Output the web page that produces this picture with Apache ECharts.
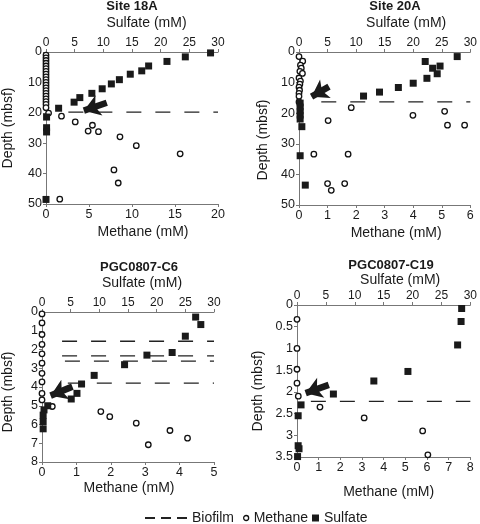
<!DOCTYPE html>
<html><head><meta charset="utf-8">
<script src="https://cdn.jsdelivr.net/npm/echarts@6/dist/echarts.min.js"></script>
<style>html,body{margin:0;padding:0;background:#fff}#chart{width:480px;height:524px}</style>
</head><body><div id="chart"></div>
<script>
// ---------- Site 18A ----------  [sulfate mM, depth mbsf] / [methane mM, depth mbsf]
const s18A_sulfate = [[28.7,0.3],[24.3,1.6],[21.1,3.1],[17.9,4.6],[16.7,6.2],[14.7,7.3],[12.8,9.1],[11.4,10.5],[9.8,12.1],[8.0,13.6],[5.9,15.0],[4.9,16.5],[2.2,18.5],[0.1,21.4],[0.1,24.9],[0.1,26.3],[0.0,48.5]];
const s18A_methane = [[0,1.0],[0,1.9],[0,2.8],[0,3.7],[0,4.6],[0,5.5],[0,6.4],[0,7.3],[0,8.2],[0,9.1],[0,10.0],[0,10.9],[0,11.8],[0,12.7],[0,13.6],[0,14.5],[0,15.4],[0,16.3],[0,17.2],[0,18.3],[0.3,20.1],[1.8,21.1],[3.4,23.0],[5.4,24.1],[4.9,26.0],[6.1,26.2],[8.6,27.9],[10.5,30.8],[15.6,33.5],[7.9,38.8],[8.4,43.1],[1.6,48.4]];
const s18A_biofilm = [[3.9,19.8],[30,19.8]];
const s18A_arrow = [[10.6,16.7],[6.6,19.3]];

// ---------- Site 20A ----------
const s20A_sulfate = [[27.7,1.5],[22.1,3.1],[24.7,4.6],[23.4,5.3],[24.2,7.1],[22.4,8.6],[20.0,10.2],[17.4,11.6],[14.1,13.1],[11.3,14.4],[0.2,16.7],[0.2,18.0],[0.2,19.3],[0.2,20.6],[0.2,21.9],[0.5,24.4],[0.2,33.9],[1.1,43.5]];
const s20A_methane = [[0,1.5],[0.13,3.0],[0.05,4.3],[0.08,5.3],[0.03,6.3],[0.12,7.0],[0,8.5],[0.05,9.5],[0.03,10.5],[0,11.5],[0.02,12.5],[0,13.5],[0,14.5],[0,16.3],[1.83,18.2],[1.02,22.4],[3.99,20.7],[5.1,19.4],[5.2,23.9],[5.8,23.9],[0.52,33.4],[1.72,33.4],[1.0,43.0],[1.13,45.2],[1.6,43.0]];
const s20A_biofilm = [[3.9,16.3],[30,16.3]];
const s20A_arrow = [[5.25,11.3],[2.2,14.6]];

// ---------- PGC0807-C6 ----------
const c6_sulfate = [[26.8,0.27],[27.7,0.67],[25.0,1.29],[22.7,2.16],[18.3,2.3],[14.4,2.81],[9.1,3.38],[6.9,3.84],[6.1,4.34],[5.1,4.64],[1.0,5.0],[0.35,5.22],[0.2,5.5],[0.2,5.84],[0.2,6.23]];
const c6_methane = [[0,0.1],[0,0.58],[0,1.2],[0,1.73],[0,2.23],[0,2.73],[0,3.27],[0,3.73],[0,4.34],[0,4.69],[0.3,5.04],[1.71,5.31],[1.97,5.58],[2.74,5.93],[3.72,6.32],[4.23,6.73],[3.09,7.08]];
const c6_biofilm1 = [[3.5,1.56],[30,1.56]];
const c6_biofilm2 = [[3.5,2.34],[30,2.34]];
const c6_biofilm3 = [[4.0,2.62],[30,2.62]];
const c6_biofilm4 = [[4.5,3.79],[30,3.79]];
const c6_arrow = [[5.3,3.98],[1.5,4.46]];

// ---------- PGC0807-C19 ----------
const c19_sulfate = [[28.5,0.08],[28.4,0.38],[27.8,0.92],[19.2,1.53],[13.3,1.75],[6.3,2.05],[0.7,2.3],[0.2,2.55],[0.2,3.24],[0.35,3.31],[0.1,3.49]];
const c19_methane = [[0,0.33],[0,1.0],[0,1.48],[0,1.8],[0.06,2.1],[1.06,2.35],[3.1,2.6],[5.8,2.9],[6.04,3.45]];
const c19_biofilm = [[2.4,2.22],[30,2.22]];
const c19_arrow = [[5.5,1.84],[1.5,2.03]];

// ---------- axes ----------
const titles = ['Site 18A','Site 20A','PGC0807-C6','PGC0807-C19'];
const sulfateMax = [30,30,30,30];
const methaneMax = [20,6,5,8];
const methaneStep = [5,1,1,1];
const depthMax = [50,50,8,3.5];
const depthStep = [10,10,1,0.5];

const FONT = 'Liberation Sans, Arial, Helvetica, sans-serif';
const TXT = '#1a1a1a';
const AX = '#777';

const grids = [
  {left:43, top:52, width:175, height:152},
  {left:299, top:52, width:173, height:153},
  {left:41, top:312, width:173, height:150},
  {left:297, top:305, width:174, height:152}
];
const titlePos = [[132,0],[395,0],[139,261],[391,259]];
const sulfNameGap = [22,22,22,18];
const sulfNamePad = [29,43,28,33];
const methNameGap = [21,21,19,28];
const methNamePad = [22,23,2,10];
const depthNameGap = [31,29,27,32];
const depthNamePad = [0,23,10,20];

const axisCommon = {
  axisLine:{show:true, lineStyle:{color:AX, width:1}},
  axisTick:{show:true, length:3, lineStyle:{color:AX}},
  splitLine:{show:false},
  nameTextStyle:{fontFamily:FONT, fontSize:14, color:TXT},
};

const xAxes = [], yAxes = [], titleArr = [];
for (let i=0;i<4;i++){
  xAxes.push(Object.assign({}, axisCommon, {
    type:'value', gridIndex:i, position:'top', min:0, max:sulfateMax[i], interval:5,
    name:'Sulfate (mM)', nameLocation:'middle', nameGap:sulfNameGap[i],
    nameTextStyle:{fontFamily:FONT, fontSize:14, color:TXT, padding:[0,0,0,sulfNamePad[i]]},
    axisLabel:{fontFamily:FONT, fontSize:12, color:TXT, margin:3}
  }));
  xAxes.push(Object.assign({}, axisCommon, {
    type:'value', gridIndex:i, position:'bottom', min:0, max:methaneMax[i], interval:methaneStep[i],
    name:'Methane (mM)', nameLocation:'middle', nameGap:methNameGap[i],
    nameTextStyle:{fontFamily:FONT, fontSize:14, color:TXT, padding:[0,0,0,methNamePad[i]]},
    axisLabel:{fontFamily:FONT, fontSize:12.5, color:TXT, margin:4}
  }));
  yAxes.push(Object.assign({}, axisCommon, {
    type:'value', gridIndex:i, position:'left', inverse:true, min:0, max:depthMax[i], interval:depthStep[i],
    name:'Depth (mbsf)', nameLocation:'middle', nameGap:depthNameGap[i],
    nameTextStyle:{fontFamily:FONT, fontSize:14, color:TXT, padding:[0,depthNamePad[i],0,0]},
    axisLabel:{fontFamily:FONT, fontSize:12.5, color:TXT, margin:4}
  }));
  titleArr.push({text:titles[i], left:titlePos[i][0], top:titlePos[i][1], textAlign:'center', padding:0,
    textStyle:{fontFamily:FONT, fontSize:13, fontWeight:'bold', color:TXT}});
}

const series = [];
function addPanel(i, sulf, meth, biofilms, arrow){
  biofilms.forEach(b => series.push({
    name:'Biofilm', type:'line', xAxisIndex:2*i, yAxisIndex:i, data:b, symbol:'none', silent:true,
    lineStyle:{color:'#222', width:1.3, type:[15,14]}, z:2
  }));
  series.push({
    name:'Methane', type:'scatter', xAxisIndex:2*i+1, yAxisIndex:i, data:meth, clip:false,
    symbol:'circle', symbolSize:5.5,
    itemStyle:{color:'#fff', borderColor:'#111', borderWidth:1.3, opacity:1}, z:3
  });
  series.push({
    name:'Sulfate', type:'scatter', xAxisIndex:2*i, yAxisIndex:i, data:sulf, clip:false,
    symbol:'rect', symbolSize:7, itemStyle:{color:'#1a1a1a', opacity:1}, z:4
  });
  series.push({
    name:'arrow', type:'lines', coordinateSystem:'cartesian2d', xAxisIndex:2*i, yAxisIndex:i, silent:true,
    symbol:['none','arrow'], symbolSize:16,
    lineStyle:{color:'#1a1a1a', width:6.5, opacity:1, curveness:0},
    data:[{coords:arrow}], z:5
  });
}
addPanel(0, s18A_sulfate, s18A_methane, [s18A_biofilm], s18A_arrow);
addPanel(1, s20A_sulfate, s20A_methane, [s20A_biofilm], s20A_arrow);
addPanel(2, c6_sulfate, c6_methane, [c6_biofilm1, c6_biofilm2, c6_biofilm3, c6_biofilm4], c6_arrow);
addPanel(3, c19_sulfate, c19_methane, [c19_biofilm], c19_arrow);

const legendText = {fontFamily:FONT, fontSize:14, color:TXT};
const option = {
  animation:false,
  backgroundColor:'#fff',
  title:titleArr,
  grid:grids,
  xAxis:xAxes,
  yAxis:yAxes,
  legend:[
    {left:145, top:511, itemWidth:42, itemHeight:2, itemGap:0, padding:0, textStyle:legendText, selectedMode:false,
     data:[{name:'Biofilm', icon:'path://M0,0h10v2h-10zM16,0h10v2h-10zM32,0h10v2h-10z', itemStyle:{color:'#222'}}]},
    {left:243, top:511, itemWidth:5, itemHeight:5, padding:0, textStyle:legendText, selectedMode:false,
     data:[{name:'Methane', icon:'circle', itemStyle:{color:'#fff', borderColor:'#111', borderWidth:1.3}}]},
    {left:312, top:511, itemWidth:7, itemHeight:7, padding:0, textStyle:legendText, selectedMode:false,
     data:[{name:'Sulfate', icon:'rect', itemStyle:{color:'#1a1a1a'}}]}
  ],
  series:series
};
const chart = echarts.init(document.getElementById('chart'), null, {renderer:'canvas'});
chart.setOption(option);
</script>
</body></html>
